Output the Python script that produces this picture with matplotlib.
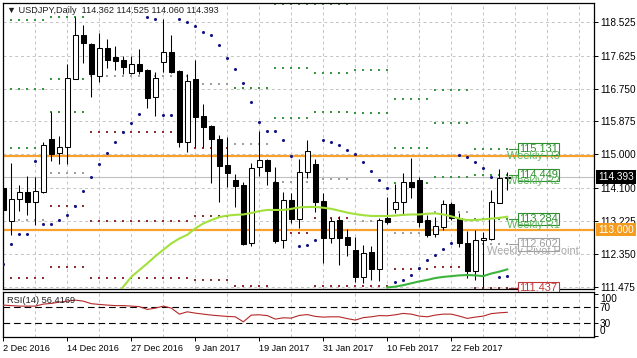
"""USDJPY daily chart (MT4 style): candles, weekly pivots, parabolic SAR, two MAs and RSI(14)."""
import matplotlib
matplotlib.use("Agg")
import matplotlib.pyplot as plt  # noqa: E402
import matplotlib.transforms as mtransforms  # noqa: E402
import numpy as np  # noqa: E402

plt.rcParams['font.family'] = ['Liberation Sans', 'DejaVu Sans']

# daily bars, 2 Dec 2016 .. 3 Mar 2017 (index = bar position)
opens = [114.10, 113.23, 113.82, 114.01, 113.74, 114.01, 115.40, 115.03, 115.19, 117.00,
         118.17, 117.93, 117.08, 117.82, 117.58, 117.51, 117.17, 117.40, 117.24, 116.52,
         117.46, 117.71, 117.22, 115.34, 116.99, 116.02, 115.75, 115.40, 114.72, 114.32,
         114.18, 112.63, 114.65, 114.85, 114.27, 112.72, 113.78, 113.28, 114.54, 114.74,
         113.76, 112.78, 113.25, 112.79, 112.45, 111.73, 112.41, 111.94, 113.30, 113.54,
         113.74, 114.26, 114.32, 113.25, 112.88, 113.07, 113.68, 113.30, 112.63, 111.90,
         112.72, 112.76, 113.71, 114.362]
highs = [114.20, 114.76, 114.18, 114.42, 114.40, 115.34, 116.13, 115.49, 117.40, 118.66,
         118.44, 117.97, 118.23, 118.06, 117.88, 117.61, 117.61, 117.79, 117.27, 117.20,
         118.59, 118.17, 117.25, 117.14, 117.51, 116.33, 115.78, 115.51, 115.47, 114.48,
         114.27, 114.78, 115.63, 114.87, 114.67, 114.01, 113.98, 114.87, 115.38, 114.87,
         113.98, 113.30, 113.36, 113.01, 112.79, 112.59, 112.56, 113.30, 113.86, 114.20,
         114.49, 114.89, 114.40, 113.39, 113.34, 113.78, 113.74, 113.43, 112.97, 112.99,
         112.93, 114.05, 114.60, 114.525]
lows = [113.40, 112.85, 113.50, 113.39, 113.12, 113.98, 114.83, 114.74, 114.74, 116.99,
        117.42, 116.53, 116.93, 117.29, 117.24, 117.14, 117.14, 117.14, 116.22, 116.02,
        117.20, 117.17, 115.20, 115.07, 115.20, 115.19, 114.24, 113.74, 114.14, 113.61,
        112.59, 112.56, 114.42, 114.18, 112.65, 112.50, 113.18, 113.03, 114.36, 113.47,
        112.10, 112.65, 112.06, 112.30, 111.61, 111.59, 111.66, 111.64, 113.15, 113.43,
        113.39, 113.83, 113.07, 112.81, 112.79, 112.99, 113.25, 112.54, 111.70, 111.66,
        111.46, 112.72, 113.71, 114.060]
closes = [113.52, 113.80, 114.01, 113.74, 114.02, 115.25, 115.01, 115.19, 117.02, 118.17,
          117.95, 117.14, 117.82, 117.51, 117.49, 117.33, 117.40, 117.22, 116.51, 117.02,
          117.71, 117.20, 115.34, 116.95, 116.00, 115.73, 115.40, 114.70, 114.49, 114.16,
          112.61, 114.63, 114.85, 114.56, 112.70, 113.78, 113.28, 114.52, 115.09, 113.74,
          112.78, 113.23, 112.78, 112.59, 111.73, 112.37, 111.94, 113.25, 113.19, 113.74,
          114.26, 114.12, 113.21, 112.85, 113.09, 113.68, 113.30, 112.63, 111.90, 112.72,
          112.78, 113.74, 114.36, 114.393]

# parabolic SAR, one value per bar
sar = [112.08, 112.61, 112.88, 112.88, 114.81, 113.15, 113.15, 113.25, 113.39, 113.63,
       114.02, 114.40, 114.74, 115.03, 115.32, 115.60, 115.84, 116.07, 118.66, 118.59,
       116.05, 116.05, 118.59, 118.53, 118.40, 118.25, 118.16, 117.91, 117.57, 117.27,
       116.90, 116.40, 115.87, 115.62, 115.62, 115.38, 114.95, 112.55, 112.59, 112.71,
       115.38, 115.34, 115.25, 115.11, 115.00, 114.79, 114.56, 114.32, 114.10, 111.61,
       111.66, 111.79, 111.97, 112.18, 112.32, 112.49, 112.63, 114.99, 114.94, 114.80,
       114.64, 114.40, 111.73, 111.76]

# moving averages (light green from bar 14, dark green from bar 48)
ma_fast_start = 14
ma_fast = [111.23, 111.48, 111.74, 111.92, 112.10, 112.29, 112.46, 112.63, 112.76, 112.86,
           113.03, 113.16, 113.25, 113.33, 113.37, 113.39, 113.40, 113.44, 113.49, 113.52,
           113.52, 113.52, 113.55, 113.59, 113.60, 113.60, 113.58, 113.55, 113.50, 113.45,
           113.41, 113.38, 113.36, 113.36, 113.36, 113.37, 113.39, 113.40, 113.40, 113.42,
           113.43, 113.40, 113.35, 113.29, 113.25, 113.25, 113.27, 113.29, 113.31, 113.34]
ma_slow_start = 48
ma_slow = [111.46, 111.48, 111.52, 111.57, 111.62, 111.66, 111.71, 111.74, 111.76, 111.78,
           111.79, 111.78, 111.76, 111.83, 111.88, 111.94]

rsi = [73.6, 72.4, 71.2, 71.2, 71.2, 76.0, 77.6, 80.7, 83.0, 85.5,
       83.0, 77.0, 75.2, 73.6, 72.4, 72.4, 71.2, 70.0, 63.3, 66.4,
       71.2, 66.4, 52.1, 57.6, 54.5, 52.1, 49.8, 48.1, 46.7, 45.7,
       33.8, 49.8, 50.5, 48.6, 40.2, 43.3, 42.6, 49.0, 51.0, 46.7,
       45.0, 45.7, 45.7, 41.4, 37.9, 43.8, 45.7, 48.6, 48.1, 50.5,
       53.8, 52.1, 47.4, 45.7, 49.8, 52.1, 52.1, 47.4, 41.9, 45.0,
       47.4, 53.3, 55.2, 56.4169]

# weekly pivot levels: (first bar, last bar, price)
pivot_r = [(1, 5, 118.58), (1, 5, 116.73), (1, 5, 115.16),
           (6, 10, 118.65), (6, 10, 117.00), (6, 10, 116.13),
           (29, 33, 116.76),
           (34, 38, 119.00), (34, 38, 117.29), (34, 38, 115.96),
           (39, 43, 119.00), (39, 43, 117.17), (39, 43, 116.13),
           (44, 48, 117.24), (44, 48, 116.11),
           (49, 53, 116.46), (49, 53, 115.16), (49, 53, 114.23),
           (54, 58, 116.71), (54, 58, 115.84), (54, 58, 114.39),
           (59, 63, 115.131), (59, 63, 114.449), (59, 63, 113.284)]
pivot_p = [(1, 5, 113.25), (6, 10, 114.49), (11, 23, 117.09), (24, 28, 116.86),
           (29, 33, 115.27), (34, 38, 114.26), (39, 43, 114.34), (44, 48, 113.23),
           (49, 53, 112.90), (54, 58, 113.47), (59, 63, 112.602)]
pivot_s = [(1, 5, 111.72),
           (6, 10, 113.63), (6, 10, 112.01),
           (11, 23, 115.60), (11, 23, 113.23), (11, 23, 111.70),
           (24, 28, 115.16), (24, 28, 113.37), (24, 28, 111.66),
           (29, 33, 111.50),
           (34, 38, 112.92),
           (39, 43, 113.30), (39, 43, 111.50),
           (44, 48, 111.50),
           (49, 53, 111.94),
           (54, 58, 112.01),
           (59, 63, 111.437)]

level_names = ["Weekly R3", "Weekly R2", "Weekly R1", "Weekly Pivot Point", ""]
level_values = [115.131, 114.449, 113.284, 112.602, 111.437]
level_kinds = ["r", "r", "r", "p", "s"]

price_ticks = [111.475, 112.350, 113.225, 114.100, 115.000,
               115.875, 116.750, 117.625, 118.525]
orange_levels = [114.955, 113.000]
date_bars = [0, 8, 16, 24, 32, 40, 48, 56]
date_labels = ["2 Dec 2016", "14 Dec 2016", "27 Dec 2016", "9 Jan 2017",
               "19 Jan 2017", "31 Jan 2017", "10 Feb 2017", "22 Feb 2017"]

GRID = dict(color="#c4c4c4", linestyle=(0, (3, 3)), linewidth=0.7)
COL = {"r": "#3d963d", "p": "#a0a0a0", "s": "#8e3030"}
BOX_TXT = {"r": "#2f8f2f", "p": "#a0a0a0", "s": "#c03838"}
NAME_TXT = {"r": "#5fb65f", "p": "#a8a8a8", "s": "#c03838"}
FS = 7.2
LFS = 7.9

fig = plt.figure(figsize=(6.37, 3.58), dpi=100)
ax = fig.add_axes([3 / 637, 69 / 358, 591 / 637, 286 / 358])
ax_rsi = fig.add_axes([3 / 637, 21.5 / 358, 591 / 637, 45 / 358])

n = len(closes)
x = np.arange(n)
xlim = (-0.04, 73.84)
grid_x = np.arange(4, 74, 4)

# ---- main panel
ax.set_xlim(*xlim)
ax.set_ylim(111.418, 119.024)
ax.set_xticks([])
ax.set_xticks(grid_x, minor=True)
ax.tick_params(axis="x", which="both", length=0)
ax.grid(which="minor", axis="x", **GRID)
ax.yaxis.tick_right()
ax.set_yticks(price_ticks)
ax.set_yticklabels([f"{v:.3f}" for v in price_ticks])
ax.tick_params(axis="y", length=3, width=0.7, pad=1.2, labelsize=FS)
ax.grid(axis="y", **GRID)
for sp in ax.spines.values():
    sp.set_linewidth(0.9)

for p in orange_levels:
    ax.axhline(p, color="#f7a12f", lw=1.6, zorder=2)
ax.axhline(closes[-1], color="#c0c0c0", lw=0.8, zorder=1.5)

for kind, rows in (("r", pivot_r), ("p", pivot_p), ("s", pivot_s)):
    size = 4.6 if kind == "p" else 2.0
    for s, e, p in rows:
        xs = np.arange(s, e + 1)
        ax.scatter(xs, np.full(len(xs), p), marker="s", s=size, c=COL[kind],
                   linewidths=0, zorder=2.2)

o = np.array(opens)
c = np.array(closes)
ax.vlines(x, lows, highs, color="black", lw=0.75, zorder=3)
body_low = np.minimum(o, c)
body_h = np.maximum(np.abs(c - o), 0.02)
ax.bar(x, body_h, bottom=body_low, width=0.56,
       color=["white" if cc >= oo else "black" for oo, cc in zip(o, c)],
       edgecolor="black", linewidth=0.75, zorder=3.5)

ax.plot(np.arange(ma_fast_start, ma_fast_start + len(ma_fast)), ma_fast,
        color="#a2e03c", lw=1.5, zorder=4)
ax.plot(np.arange(ma_slow_start, ma_slow_start + len(ma_slow)), ma_slow,
        color="#3cb43c", lw=1.5, zorder=4)
ax.scatter(x, sar, marker="o", s=5, c="#141482", linewidths=0, zorder=5)

# weekly level labels at the right end
for name, val, kind in zip(level_names, level_values, level_kinds):
    ax.plot([63.2, 64.4], [val, val], color=COL[kind], lw=0.8, zorder=5)
    ax.text(66.9, val, f"{val:.3f}", ha="center", va="center", fontsize=LFS,
            color=BOX_TXT[kind], zorder=6,
            bbox=dict(boxstyle="square,pad=0.1", fc="white", ec=BOX_TXT[kind], lw=0.8))
    if name:
        ax.text(66.25, val - 0.17, name, ha="center", va="center", fontsize=LFS,
                color=NAME_TXT[kind], zorder=7)

ax.text(0.0068, 0.975, "\u25bc USDJPY,Daily  114.362 114.525 114.060 114.393",
        transform=ax.transAxes, ha="left", va="center", fontsize=6.6, color="#202020")

# current price and orange level tags on the price scale
trans = mtransforms.blended_transform_factory(ax.transAxes, ax.transData)
for val, bg in ((closes[-1], "black"), (orange_levels[1], "#f39c1f")):
    ax.text(1.0068, val, f"{val:.3f}", transform=trans, ha="left", va="center",
            fontsize=FS, color="white", clip_on=False, zorder=10,
            bbox=dict(boxstyle="square,pad=0.18", fc=bg, ec="none"))

# ---- RSI panel
ax_rsi.set_xlim(*xlim)
ax_rsi.set_ylim(-1.2, 106)
ax_rsi.plot(x, rsi, color="#b52828", lw=0.8, zorder=3)
for lvl in (70, 30):
    ax_rsi.axhline(lvl, color="black", lw=0.8, linestyle=(0, (6, 3.5)), zorder=2)
ax_rsi.set_xticks(date_bars)
ax_rsi.set_xticklabels(date_labels)
ax_rsi.set_xticks(grid_x, minor=True)
ax_rsi.tick_params(axis="x", which="major", length=3, width=0.7, pad=2.2, labelsize=6.6)
ax_rsi.tick_params(axis="x", which="minor", length=0)
for lbl in ax_rsi.get_xticklabels():
    lbl.set_ha("left")
ax_rsi.grid(which="minor", axis="x", **GRID)
ax_rsi.yaxis.tick_right()
ax_rsi.set_yticks([0, 30, 70, 100])
ax_rsi.set_yticklabels(["0", "30", "70", "100"])
ax_rsi.tick_params(axis="y", length=3, width=0.7, pad=1.2, labelsize=FS)
ylbls = ax_rsi.get_yticklabels()
ylbls[0].set_va("bottom")
ylbls[3].set_va("top")
for sp in ax_rsi.spines.values():
    sp.set_linewidth(0.9)
ax_rsi.text(0.0068, 0.8, "RSI(14) 56.4169", transform=ax_rsi.transAxes,
            ha="left", va="center", fontsize=6.7, color="#202020", zorder=4)

fig.savefig("out.png", dpi=100, facecolor="white")
